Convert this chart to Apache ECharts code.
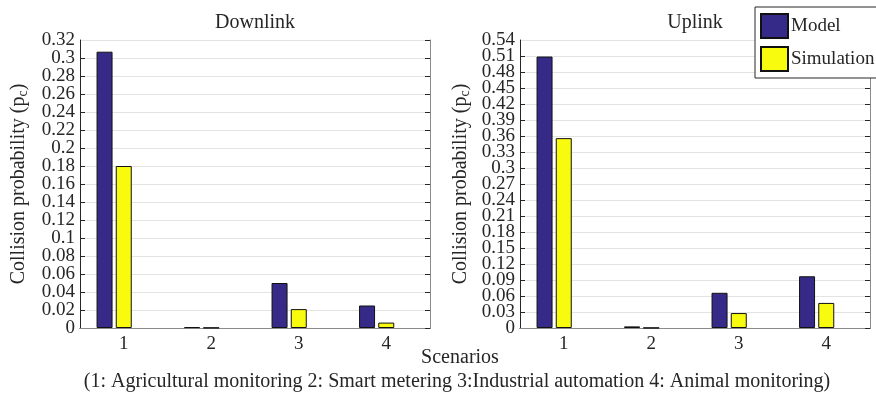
<!DOCTYPE html>
<html>
<head>
<meta charset="utf-8">
<script src="https://cdn.jsdelivr.net/npm/echarts@6/dist/echarts.min.js"></script>
<style>
  html, body { margin: 0; padding: 0; background: #fff; }
  #chart { width: 876px; height: 394px; }
</style>
</head>
<body>
<div id="chart"></div>
<script>
// Scenario indices on the x axis
const scenarios = ['1', '2', '3', '4'];

// Collision probability, downlink
const downlinkModel = [0.307, 0.001, 0.050, 0.025];
const downlinkSimulation = [0.180, 0.0003, 0.021, 0.006];

// Collision probability, uplink
const uplinkModel = [0.509, 0.003, 0.066, 0.097];
const uplinkSimulation = [0.356, 0.0003, 0.028, 0.047];

// Y axis ranges and steps
const downlinkMax = 0.32, downlinkStep = 0.02;
const uplinkMax = 0.54, uplinkStep = 0.03;

const FONT = 'Liberation Serif';
const DARK = '#262626';
const GREY = '#8a8a8a';
const MODEL_COLOR = '#352a87';
const SIM_COLOR = '#f9fb0e';

const chart = echarts.init(document.getElementById('chart'));

const fmt = v => String(+v.toFixed(2));
const tickFont = { fontFamily: FONT, fontSize: 19, color: DARK, margin: 5 };

function bottomAxis(gridIndex) {
  return {
    type: 'category', gridIndex, data: scenarios, position: 'bottom',
    boundaryGap: true,
    axisLine: { lineStyle: { color: DARK, width: 1 } },
    axisTick: { inside: true, alignWithLabel: true, length: 4, lineStyle: { color: DARK } },
    axisLabel: { fontFamily: FONT, fontSize: 19, color: DARK, margin: 7 },
    splitLine: { show: false }
  };
}
function topAxis(gridIndex) {
  return {
    type: 'category', gridIndex, data: scenarios, position: 'top',
    boundaryGap: true,
    axisLine: { lineStyle: { color: GREY, width: 1 } },
    axisTick: { inside: true, alignWithLabel: true, length: 4, lineStyle: { color: DARK } },
    axisLabel: { show: false },
    splitLine: { show: false }
  };
}
// main value axis: line, ticks, grid and the inner labels (labels are packed tightly,
// so the end labels are drawn by endLabelAxis and not dropped as overlapping)
function leftAxis(gridIndex, max, step, gap) {
  return {
    type: 'value', gridIndex, min: 0, max, interval: step, position: 'left',
    name: '{a|Collision probability (p}{s|c}{a|)}',
    nameLocation: 'middle', nameGap: gap,
    nameTextStyle: {
      rich: {
        a: { fontFamily: FONT, fontSize: 20, color: DARK, lineHeight: 22 },
        s: { fontFamily: FONT, fontSize: 14, color: DARK, lineHeight: 22, verticalAlign: 'bottom', padding: [10, 0, 0, 0] }
      }
    },
    axisLine: { show: true, lineStyle: { color: DARK, width: 1 } },
    axisTick: { show: true, inside: true, length: 5, lineStyle: { color: DARK } },
    axisLabel: Object.assign({ formatter: fmt, showMinLabel: false, showMaxLabel: false, hideOverlap: false }, tickFont),
    splitLine: { show: true, lineStyle: { color: '#e3e3e3', width: 1 } }
  };
}
function endLabelAxis(gridIndex, max, step) {
  return {
    type: 'value', gridIndex, min: 0, max, interval: step, position: 'left',
    axisLine: { show: false }, axisTick: { show: false }, splitLine: { show: false },
    axisLabel: Object.assign({
      formatter: v => (v === 0 || Math.abs(v - max) < 1e-9) ? fmt(v) : '',
      showMinLabel: true, showMaxLabel: true, hideOverlap: false
    }, tickFont)
  };
}
function rightAxis(gridIndex, max, step) {
  return {
    type: 'value', gridIndex, min: 0, max, interval: step, position: 'right',
    axisLine: { show: true, lineStyle: { color: GREY, width: 1 } },
    axisTick: { show: true, inside: true, length: 5, lineStyle: { color: DARK } },
    axisLabel: { show: false },
    splitLine: { show: false }
  };
}

function barSeries(name, data, color, xIdx, yIdx) {
  return {
    name, type: 'bar', data, xAxisIndex: xIdx, yAxisIndex: yIdx,
    barWidth: 16, barGap: '20%',
    itemStyle: { color, borderColor: '#111', borderWidth: 1 },
    emphasis: { disabled: true }
  };
}
// empty third slot in each group, so the pair sits left of the tick as in a three-bar group
function spacer(xIdx, yIdx) {
  return {
    type: 'bar', data: [], xAxisIndex: xIdx, yAxisIndex: yIdx,
    barWidth: 16, barGap: '20%', silent: true
  };
}

const textStyle = { fontFamily: FONT, fontSize: 20, fill: DARK };

chart.setOption({
  animation: false,
  backgroundColor: '#fff',
  grid: [
    { left: 80, top: 40, width: 350, height: 288 },
    { left: 520, top: 40, width: 350, height: 288 }
  ],
  xAxis: [bottomAxis(0), topAxis(0), bottomAxis(1), topAxis(1)],
  yAxis: [
    leftAxis(0, downlinkMax, downlinkStep, 50),
    endLabelAxis(0, downlinkMax, downlinkStep),
    rightAxis(0, downlinkMax, downlinkStep),
    leftAxis(1, uplinkMax, uplinkStep, 48),
    endLabelAxis(1, uplinkMax, uplinkStep),
    rightAxis(1, uplinkMax, uplinkStep)
  ],
  legend: {
    data: ['Model', 'Simulation'],
    orient: 'vertical',
    left: 755, top: 7,
    padding: [6, 3, 6, 5],
    itemWidth: 27, itemHeight: 24, itemGap: 7,
    icon: 'rect',
    backgroundColor: '#fff',
    borderColor: DARK, borderWidth: 1,
    textStyle: { fontFamily: FONT, fontSize: 19, color: DARK, padding: [0, 0, 0, -2] },
    selectedMode: false
  },
  series: [
    barSeries('Model', downlinkModel, MODEL_COLOR, 0, 0),
    barSeries('Simulation', downlinkSimulation, SIM_COLOR, 0, 0),
    spacer(0, 0),
    barSeries('Model', uplinkModel, MODEL_COLOR, 2, 3),
    barSeries('Simulation', uplinkSimulation, SIM_COLOR, 2, 3),
    spacer(2, 3)
  ],
  graphic: [
    { type: 'text', x: 255, y: 23, style: Object.assign({ text: 'Downlink', align: 'center', verticalAlign: 'middle' }, textStyle), z: 10 },
    { type: 'text', x: 695, y: 23, style: Object.assign({ text: 'Uplink', align: 'center', verticalAlign: 'middle' }, textStyle), z: 10 },
    { type: 'text', x: 460, y: 358, style: Object.assign({ text: 'Scenarios', align: 'center', verticalAlign: 'middle' }, textStyle), z: 10 },
    { type: 'text', x: 457, y: 382, style: Object.assign({ text: '(1: Agricultural monitoring 2: Smart metering 3:Industrial automation 4: Animal monitoring)', align: 'center', verticalAlign: 'middle' }, textStyle), z: 10 }
  ]
});
</script>
</body>
</html>
